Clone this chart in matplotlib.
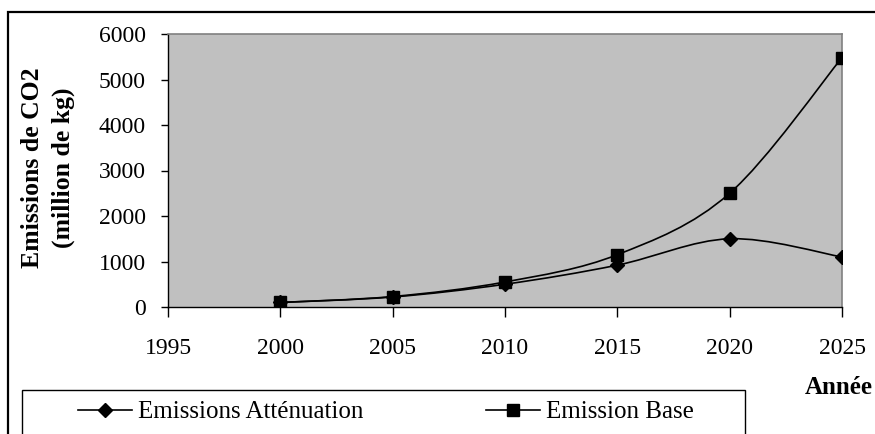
import matplotlib
matplotlib.use("Agg")
import matplotlib.pyplot as plt
from matplotlib.path import Path
from matplotlib.patches import PathPatch, Rectangle
from matplotlib.lines import Line2D

years = [2000, 2005, 2010, 2015, 2020, 2025]
attenuation = [100, 220, 500, 920, 1500, 1100]
base = [100, 230, 550, 1150, 2500, 5480]

plt.rcParams["font.family"] = ["Liberation Serif", "DejaVu Serif"]


def smooth_path(xs, ys):
    # Excel-like smoothed line: cubic Bezier through the points
    pts = list(zip(xs, ys))
    n = len(pts)
    verts = [pts[0]]
    codes = [Path.MOVETO]
    for i in range(n - 1):
        p0 = pts[max(i - 1, 0)]
        p1 = pts[i]
        p2 = pts[i + 1]
        p3 = pts[min(i + 2, n - 1)]
        c1 = (p1[0] + (p2[0] - p0[0]) / 6, p1[1] + (p2[1] - p0[1]) / 6)
        c2 = (p2[0] - (p3[0] - p1[0]) / 6, p2[1] - (p3[1] - p1[1]) / 6)
        verts += [c1, c2, p2]
        codes += [Path.CURVE4] * 3
    return Path(verts, codes)


fig = plt.figure(figsize=(8.75, 4.34), dpi=100)
ax = fig.add_axes([168 / 875, 1 - 307 / 434, (842 - 168) / 875, (307 - 34) / 434])
ax.set_facecolor("#c0c0c0")

for ys in (attenuation, base):
    ax.add_patch(PathPatch(smooth_path(years, ys), facecolor="none",
                           edgecolor="black", lw=1.2, zorder=3))
ax.plot(years, attenuation, ls="none", marker="D", ms=7, color="black", zorder=4)
ax.plot(years, base, ls="none", marker="s", ms=8.5, color="black", zorder=5)

ax.set_xlim(1995, 2025)
ax.set_ylim(0, 6000)
ax.set_xticks(range(1995, 2026, 5))
ax.set_yticks(range(0, 6001, 1000))
ax.tick_params(axis="x", direction="out", length=7, width=1, labelsize=17, pad=15)
ax.tick_params(axis="y", direction="out", length=5, width=1, labelsize=17, pad=11)
for s in ("top", "right"):
    ax.spines[s].set_color("#808080")
    ax.spines[s].set_linewidth(1.2)
for s in ("left", "bottom"):
    ax.spines[s].set_color("black")
    ax.spines[s].set_linewidth(1)

fig.text(48 / 875, 1 - 168 / 434, "Emissions de CO2\n(million de kg)", rotation=90,
         ha="center", va="center", fontsize=18.5, fontweight="bold", linespacing=1.45)
fig.text(873 / 875, 1 - 387 / 434, "Année", ha="right", va="center",
         fontsize=18, fontweight="bold")

# outer chart border (clipped at right and bottom like the source)
fig.add_artist(Rectangle((8 / 875, -0.2), 1.2, 1.2 - 12 / 434,
                         transform=fig.transFigure, fill=False,
                         edgecolor="black", lw=1.6))
# legend box
fig.add_artist(Rectangle((22 / 875, -0.2), (745 - 22) / 875, 0.2 + 1 - 390 / 434,
                         transform=fig.transFigure, fill=False,
                         edgecolor="black", lw=1))

h1 = Line2D([], [], color="black", lw=1.2, marker="D", ms=7)
h2 = Line2D([], [], color="black", lw=1.2, marker="s", ms=8.5)
fig.legend([h1, h2], ["Emissions Atténuation", "Emission Base"], ncol=2,
           loc="center left", bbox_to_anchor=(78 / 875, 1 - 412 / 434),
           frameon=False, fontsize=18, handlelength=2.16, handletextpad=0.24,
           columnspacing=4.9, borderpad=0, borderaxespad=0)

fig.savefig("out.png", dpi=100)
